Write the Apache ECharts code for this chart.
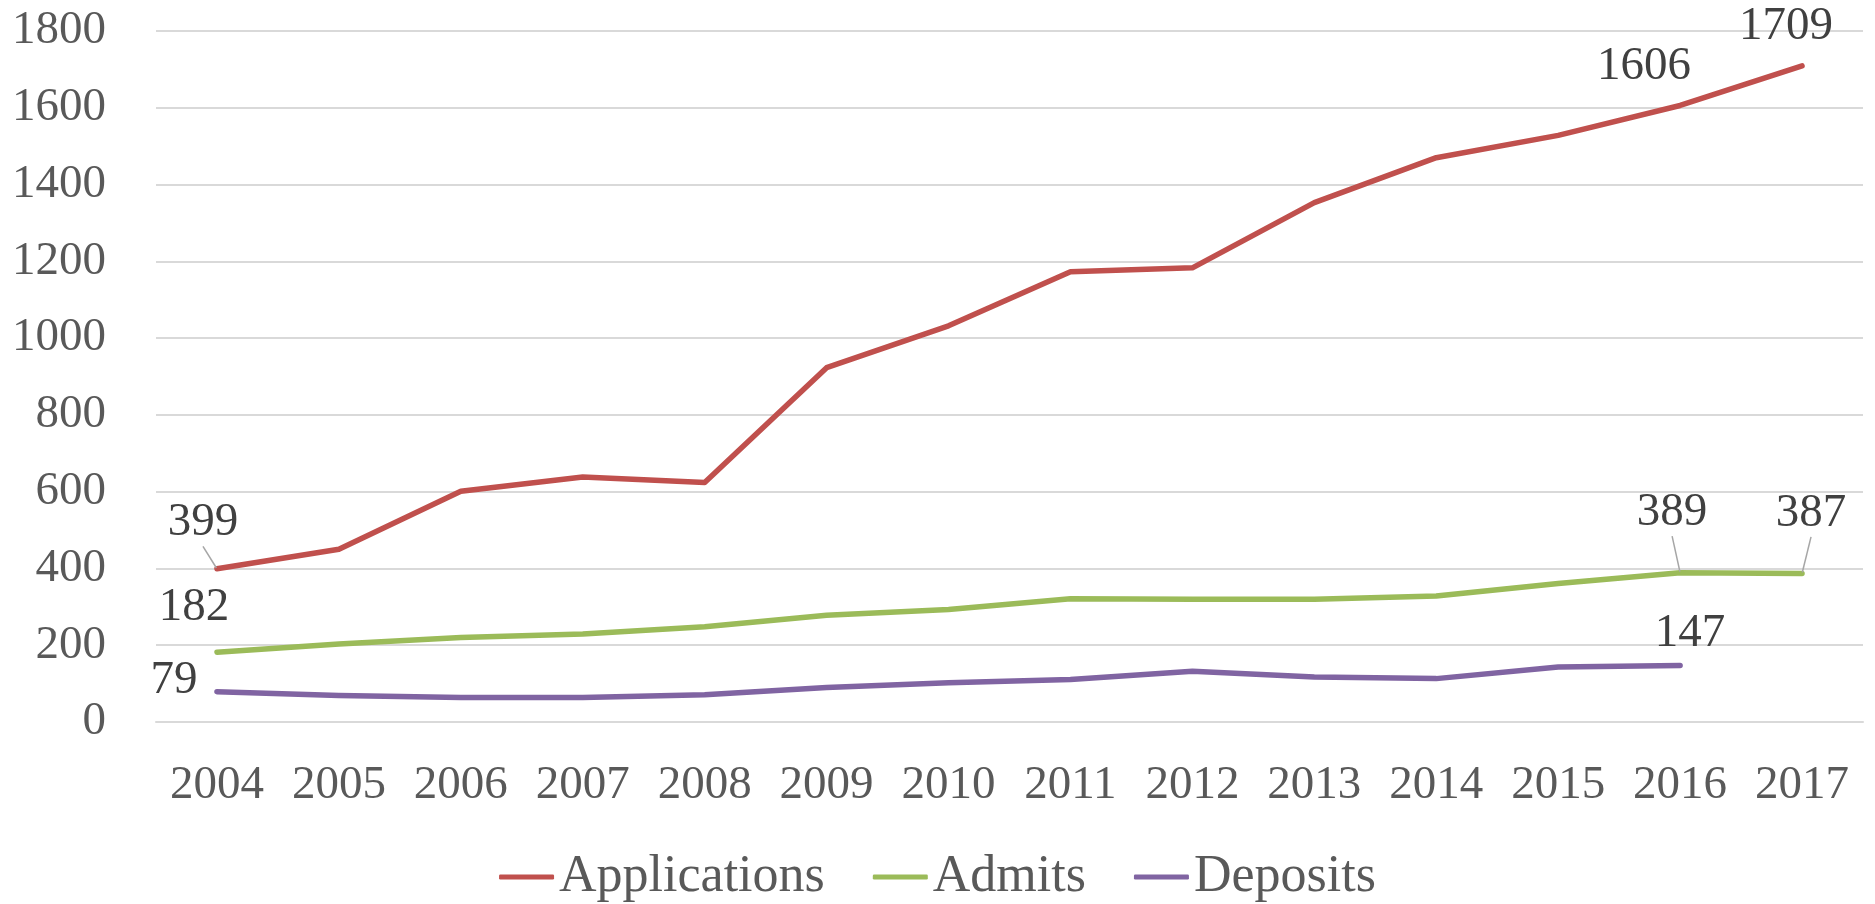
<!DOCTYPE html>
<html>
<head>
<meta charset="utf-8">
<script src="https://cdn.jsdelivr.net/npm/echarts@6/dist/echarts.min.js"></script>
<style>
html,body{margin:0;padding:0;background:#fff;}
#chart{width:1875px;height:904px;}
</style>
</head>
<body>
<div id="chart"></div>
<script>
const years = ['2004','2005','2006','2007','2008','2009','2010','2011','2012','2013','2014','2015','2016','2017'];
const applications = [399, 450, 601, 638, 624, 923, 1032, 1173, 1183, 1353, 1470, 1528, 1606, 1709];
const admits = [182, 203, 220, 229, 248, 278, 293, 321, 320, 320, 328, 361, 389, 387];
const deposits = [79, 69, 64, 64, 71, 90, 102, 111, 132, 117, 113, 143, 147, null];
const seriesNames = ['Applications', 'Admits', 'Deposits'];
const yTicks = {min: 0, max: 1800, step: 200};

// which points carry a value label, and whether a leader line is drawn
const labelled = {
  0: {0: true, 12: false, 13: false},
  1: {0: false, 12: true, 13: true},
  2: {0: false, 12: false}
};
// label offsets (pixels) relative to the point
const labelShift = {
  '0-0': [-14, -46], '0-12': [-36, -39], '0-13': [-16, -39],
  '1-0': [-23, -44], '1-12': [-8, -60], '1-13': [9, -60],
  '2-0': [-43, -11], '2-12': [10, -32]
};

const colors = ['#C0504D', '#9BBB59', '#8064A2'];
const FONT = '"Liberation Serif", "Times New Roman", serif';

function buildData(values, si) {
  return values.map((v, i) => {
    const item = {value: v == null ? '-' : v};
    if (labelled[si] && (i in labelled[si])) {
      item.label = {show: true};
      item.labelLine = {show: labelled[si][i]};
    }
    return item;
  });
}

const allValues = [applications, admits, deposits];
const chart = echarts.init(document.getElementById('chart'));
chart.setOption({
  animation: false,
  backgroundColor: '#ffffff',
  color: colors,
  grid: {left: 156, right: 12, top: 31, bottom: 182, outerBoundsMode: 'none', containLabel: false},
  legend: {
    left: 'center',
    top: 846,
    itemWidth: 55,
    itemHeight: 5,
    itemGap: 48,
    icon: 'roundRect',
    textStyle: {fontFamily: FONT, fontSize: 52, color: '#595959'},
    data: seriesNames
  },
  xAxis: {
    type: 'category',
    data: years,
    boundaryGap: true,
    axisLine: {show: true, lineStyle: {color: '#D9D9D9', width: 2}},
    axisTick: {show: false},
    axisLabel: {fontFamily: FONT, fontSize: 47, color: '#595959', margin: 40, interval: 0}
  },
  yAxis: {
    type: 'value',
    min: yTicks.min,
    max: yTicks.max,
    interval: yTicks.step,
    axisLine: {show: false},
    axisTick: {show: false},
    axisLabel: {fontFamily: FONT, fontSize: 47, color: '#595959', margin: 50, formatter: v => String(v)},
    splitLine: {lineStyle: {color: '#D9D9D9', width: 2}}
  },
  series: seriesNames.map((name, si) => ({
    name: name,
    type: 'line',
    data: buildData(allValues[si], si),
    symbol: 'circle',
    symbolSize: 2,
    showSymbol: true,
    showAllSymbol: true,
    connectNulls: false,
    lineStyle: {width: 5.5, color: colors[si], cap: 'round', join: 'round'},
    itemStyle: {color: colors[si]},
    emphasis: {disabled: true},
    label: {
      show: false,
      position: 'inside',
      fontFamily: FONT,
      fontSize: 47,
      color: '#404040',
      align: 'center',
      verticalAlign: 'middle'
    },
    labelLine: {show: false, lineStyle: {color: '#A6A6A6', width: 1.5}},
    labelLayout: function (p) {
      const s = labelShift[p.seriesIndex + '-' + p.dataIndex];
      return s ? {dx: s[0], dy: s[1]} : {};
    }
  }))
});
</script>
</body>
</html>
